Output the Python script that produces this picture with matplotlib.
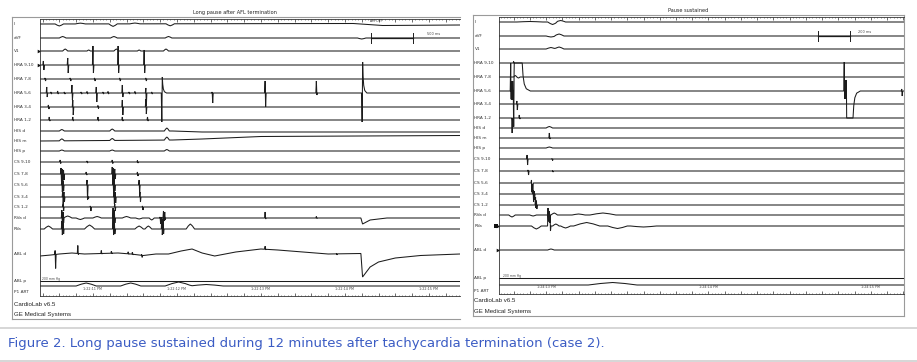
import numpy as np
import matplotlib
matplotlib.use("Agg")
import matplotlib.pyplot as plt
from matplotlib.ticker import MultipleLocator

W, H = 917, 362

# -----------------------------
# data read off the two tracings
# -----------------------------
channels = ["I", "aVF", "V1", "HRA 9,10", "HRA 7,8", "HRA 5,6", "HRA 3,4", "HRA 1,2",
            "HIS d", "HIS m", "HIS p", "CS 9,10", "CS 7,8", "CS 5,6", "CS 3,4", "CS 1,2",
            "RVa d", "RVa", "ABL d", "ABL p", "P1 ART"]

left_title = "Long pause after AFL termination"
left_t_range = (10.37, 15.37)          # seconds after 1:22:00 PM
left_clock_t = [11, 12, 13, 14, 15]
left_clock = ["1:22:11 PM", "1:22:12 PM", "1:22:13 PM", "1:22:14 PM", "1:22:15 PM"]
left_scale = (14.31, 14.81, 14.98, "500 ms")   # bar start, bar end, label x

right_title = "Pause sustained"
right_t_range = (12.71, 15.204)        # seconds after 1:24:00 PM
right_clock_t = [13, 14, 15]
right_clock = ["1:24:13 PM", "1:24:14 PM", "1:24:15 PM"]
right_scale = (14.673, 14.873, 14.92, "200 ms")

# sharp deflections: (time s, up px, down px)
left_spikes = {
    "HRA 9,10": [(10.41, 4, 5), (10.70, 7, 8), (11.00, 19, 8), (11.30, 19, 8), (11.61, 15, 8)],
    "HRA 7,8": [(10.43, 1, 2), (10.73, 1, 2), (11.02, 1, 2), (11.32, 1, 2), (11.63, 1, 2)],
    "HRA 5,6": [(10.45, 6, 4), (10.50, 1, 1), (10.58, 2, 1), (10.66, 1, 1), (10.75, 8, 7),
                (10.86, 1, 1), (10.93, 1.5, 1), (11.04, 6, 9), (11.12, 1, 1), (11.18, 1.5, 1),
                (11.35, 8, 4), (11.43, 1, 1), (11.50, 1.5, 1), (11.63, 5, 13), (11.70, 1, 1),
                (12.42, 1, 10), (13.05, 12, 14), (13.66, 12, 2)],
    "HRA 3,4": [(10.47, 2, 2), (10.76, 7, 8), (11.06, 1.5, 1.5), (11.35, 7, 8), (11.63, 8, 7)],
    "HRA 1,2": [(10.48, 3, 1), (10.76, 3, 1), (11.06, 3, 1), (11.35, 3, 1), (11.65, 3, 1)],
    "CS 9,10": [(10.61, 2, 1.5), (10.93, 1, 1), (11.23, 2, 1.5), (11.53, 1.5, 1)],
    "CS 7,8": [(10.62, 6, 8), (10.635, 5, 7), (10.65, 4, 6), (10.92, 2, 1),
               (11.23, 7, 7), (11.245, 6, 6), (11.26, 5, 5), (11.53, 2, 2)],
    "CS 5,6": [(10.63, 5, 7), (10.645, 4, 6), (10.93, 5, 15), (11.24, 6, 7), (11.255, 5, 6),
               (11.55, 5, 8)],
    "CS 3,4": [(10.64, 6, 7), (10.655, 5, 5), (10.94, 1, 2), (11.25, 6, 7), (11.265, 5, 6),
               (11.56, 5, 5)],
    "CS 1,2": [(10.645, 3, 4), (10.97, 1, 4), (11.26, 3, 4), (11.59, 1, 3)],
    "RVa d": [(10.63, 8, 6), (10.645, 6, 5), (11.24, 10, 6), (11.255, 8, 5), (11.80, 1, 6),
              (11.84, 7, 3), (11.855, 6, 2), (13.05, 6, 1), (13.66, 1.5, 0.5)],
    "RVa": [(10.63, 8, 6), (10.645, 6, 5), (11.24, 12, 6), (11.255, 9, 5), (11.82, 12, 6),
            (11.835, 10, 5)],
    "ABL d": [(10.55, 4, 14), (10.82, 8, 1), (11.10, 3, 0.5), (11.22, 2, 0.5), (11.42, 2, 0.5),
              (11.47, 2, 0.5), (11.58, 1, 2), (13.05, 3, 0.5), (13.90, 0.5, 1)],
}
# rounded waves: (time s, amplitude px, half width s)
left_humps = {
    "I": [(10.60, -2, 0.05), (10.85, 0.8, 0.06), (11.24, -2.5, 0.05), (11.50, 0.8, 0.06),
          (11.92, -2, 0.05)],
    "aVF": [(10.64, 1.5, 0.04), (11.25, 1.5, 0.04), (11.90, 1.5, 0.04), (14.20, -1, 0.05)],
    "V1": [(10.67, 2, 0.03), (10.95, 1, 0.02), (11.28, 2, 0.03), (11.55, 1, 0.02),
           (11.87, 2, 0.03)],
    "HIS d": [(10.63, 1.5, 0.03), (11.23, 2, 0.03), (11.88, 3, 0.03)],
    "HIS m": [(10.63, 2, 0.03), (11.23, 2, 0.03), (11.88, 3, 0.03)],
    "HIS p": [(10.63, 1, 0.03), (11.23, 1, 0.03), (11.88, 1.5, 0.03)],
    "RVa d": [(10.70, 2, 0.05), (10.85, -1.5, 0.05), (11.05, 1.5, 0.05), (11.40, 1.5, 0.05),
              (11.55, -1, 0.04), (11.70, -2, 0.03)],
    "RVa": [(10.47, 3, 0.05), (10.96, 4, 0.06), (11.55, 3, 0.05), (11.66, 3, 0.04),
            (12.16, 5, 0.05)],
    "P1 ART": [(10.92, 3, 0.12), (11.45, 3, 0.12), (12.02, 4, 0.16), (12.35, 1.5, 0.2)],
}
# slow baseline drift: (time s, offset px)
left_drift = {
    "I": [(10.37, 0), (14.10, 0.5), (14.45, -1.5), (15.37, -1)],
    "HIS d": [(10.37, 0), (11.95, 0), (12.30, -1), (15.37, -1)],
    "HIS m": [(10.37, 0), (11.95, 1), (12.30, 2), (13.00, 4.5), (15.37, 5.5)],
    "RVa d": [(10.37, 0), (14.19, 0), (14.21, -6), (14.30, -2), (14.50, 0), (15.37, 0)],
    "ABL d": [(10.37, -2), (10.50, -1), (10.60, 0), (10.75, 1), (10.90, 0), (11.10, 0.5),
              (11.30, 1), (11.45, 0), (11.60, -1.5), (11.75, 0), (11.90, 0), (12.05, 3),
              (12.18, 5), (12.30, 1), (12.45, -2), (12.70, 2), (13.00, 5), (13.20, 4),
              (13.50, 2), (13.80, 0), (14.19, 0.5), (14.21, -23), (14.30, -13), (14.40, -8),
              (14.60, -4), (14.90, -1.5), (15.37, 0)],
}
# pacing / saturation artifacts: (time s, first px, second px, hold s, recovery s)
left_artifacts = {
    "HRA 5,6": [(11.82, -29, 16, 0.0, 0.05), (14.205, -29, 31, 0.0, 0.05)],
}

right_spikes = {
    "HRA 9,10": [(12.80, 1.5, 0.5)],
    "HRA 5,6": [(12.782, 28, 27), (12.786, 28, 27), (12.790, 28, 27), (12.794, 28, 27),
                (12.798, 28, 27), (14.836, 29, 27), (14.840, 29, 27), (14.844, 29, 27),
                (15.19, 2, 5)],
    "HRA 3,4": [(12.82, 3, 6)],
    "HRA 1,2": [(12.788, 0, 15), (12.835, 3, 1)],
    "HIS m": [(13.02, 5, 1)],
    "CS 9,10": [(12.883, 4, 6), (13.037, 0.5, 1.5)],
    "CS 7,8": [(12.889, 1, 4), (13.04, 0.5, 1)],
    "CS 5,6": [(12.91, 3, 10), (12.915, 2, 8)],
    "CS 3,4": [(12.92, 4, 8), (12.926, 3, 6)],
    "CS 1,2": [(12.935, 8, 5), (12.94, 6, 4)],
    "RVa d": [(13.02, 4, 3)],
    "RVa": [(13.012, 18, 6), (13.016, 16, 6), (13.020, 17, 6), (13.024, 14, 5)],
}
right_humps = {
    "I": [(12.90, 0.5, 0.08), (13.04, -2.5, 0.03), (13.09, 1.5, 0.03)],
    "aVF": [(13.03, -1, 0.03), (13.08, 2, 0.03)],
    "V1": [(13.03, 1.5, 0.03), (13.08, 2, 0.03)],
    "HRA 7,8": [(12.81, 1.5, 0.01), (12.83, -1, 0.01)],
    "HIS d": [(13.02, 1.5, 0.02)],
    "HIS p": [(13.02, 1, 0.02)],
    "RVa d": [(12.79, -2, 0.02), (12.92, -1, 0.02), (13.05, 2, 0.02), (13.20, 1, 0.04),
              (13.35, 2, 0.08)],
    "RVa": [(12.94, -3, 0.03), (13.06, 2, 0.02), (13.12, -2, 0.03), (13.25, 3.5, 0.08),
            (13.44, -2.5, 0.06), (13.60, -1, 0.08)],
    "ABL d": [(13.03, 1, 0.02)],
    "P1 ART": [(13.41, 2.5, 0.15)],
}
right_drift = {}
right_artifacts = {
    "HRA 5,6": [(12.80, -27, 28, 0.05, 0.05), (14.848, 29, -27, 0.039, 0.045)],
}

# -----------------------------
# layout (pixels)
# -----------------------------
left_rows = [24, 38, 51, 65, 79, 93, 107, 120, 131, 141, 151, 162, 174, 185, 197, 207,
             218, 229, 254, 281, 286]
right_rows = [22, 36, 49, 63, 77, 91, 104, 118, 128, 138, 148, 159, 171, 183, 194, 205,
              215, 226, 250, 278, 285]

INK = "#1c1c1c"
FRAME = "#9a9a9a"


def build_trace(t_range, drift, spikes, humps, arts, w):
    pulses = []
    for t, up, dn in spikes:
        pulses.append(([t - w, t, t + w, t + 2 * w], [0, up, -dn, 0]))
    for t, a, hw in humps:
        pulses.append(([t - hw, t - hw / 2, t, t + hw / 2, t + hw], [0, .6 * a, a, .6 * a, 0]))
    for t, first, second, hold, dec in arts:
        ts = [t - w, t, t + w]
        vs = [0, first, second]
        t1 = t + w
        if hold > 0:
            t1 = t + w + hold
            ts.append(t1)
            vs.append(second)
        for f, r in zip([0.1, 0.25, 0.5, 1.0], [0.55, 0.25, 0.08, 0.0]):
            ts.append(t1 + f * dec)
            vs.append(second * r)
        pulses.append((ts, vs))
    knots = drift if drift else [(t_range[0], 0), (t_range[1], 0)]
    kt = [k[0] for k in knots]
    kv = [k[1] for k in knots]
    grid = set(kt) | {t_range[0], t_range[1]}
    for ts, _ in pulses:
        grid |= set(ts)
    grid = np.array(sorted(g for g in grid if t_range[0] <= g <= t_range[1]))
    y = np.interp(grid, kt, kv)
    for ts, vs in pulses:
        y = y + np.interp(grid, ts, vs, left=0, right=0)
    return grid, y


fig = plt.figure(figsize=(W / 100, H / 100), dpi=100)
bg = fig.add_axes([0, 0, 1, 1])
bg.set_xlim(0, W)
bg.set_ylim(H, 0)
bg.axis("off")


def panel(box, t_range, rows, title, title_x, clock_t, clock, scale, spikes, humps, drift,
          arts, major, minor, w, frame, label_x, foot_y):
    x0, x1, ytop, ybot = box
    ax = fig.add_axes([x0 / W, 1 - ybot / H, (x1 - x0) / W, (ybot - ytop) / H])
    ax.set_facecolor("none")
    ax.set_xlim(*t_range)
    ax.set_ylim(ybot, ytop)
    for name, row in zip(channels, rows):
        t, y = build_trace(t_range, drift.get(name), spikes.get(name, []),
                           humps.get(name, []), arts.get(name, []), w)
        ax.plot(t, row - y, color=INK, lw=0.75, solid_joinstyle="miter")
    # time stamps
    for ct, lab in zip(clock_t, clock):
        ax.text(ct, rows[-1] + 2.5, lab, fontsize=2.4, ha="center", va="center", color="#444")
    ax.text(t_range[0] + 0.025, rows[-2] - 1.6, "200 mm Hg",
            fontsize=2.2, ha="left", va="center", color="#444")
    # calibration bar
    sa, sb, sx, slab = scale
    ax.plot([sa, sb], [rows[1], rows[1]], color=INK, lw=0.9)
    ax.plot([sa, sa], [rows[1] - 5, rows[1] + 5], color=INK, lw=0.7)
    ax.plot([sb, sb], [rows[1] - 5, rows[1] + 5], color=INK, lw=0.7)
    ax.text(sx, rows[1] - 4, slab, fontsize=2.5, ha="left", va="center", color="#444")
    # rulers
    ax.xaxis.set_major_locator(MultipleLocator(major))
    ax.xaxis.set_minor_locator(MultipleLocator(minor))
    ax.tick_params(axis="x", which="both", direction="in", top=True, bottom=True,
                   labelbottom=False, colors="#333")
    ax.tick_params(axis="x", which="major", length=2.2, width=0.5)
    ax.tick_params(axis="x", which="minor", length=1.0, width=0.4)
    ax.set_yticks([])
    ax.spines["right"].set_visible(False)
    for s in ["top", "bottom", "left"]:
        ax.spines[s].set_linewidth(0.6)
        ax.spines[s].set_color("#333")
    # frame, labels, title, footer
    fx0, fx1, fy0, fy1 = frame
    bg.plot([fx0, fx1], [fy0, fy0], color=FRAME, lw=0.8)
    bg.plot([fx0, fx0], [fy0, fy1], color=FRAME, lw=0.8)
    bg.plot([fx0, fx1], [fy1, fy1], color=FRAME, lw=0.8)
    bg.text(title_x, fy0 - 4.5, title, fontsize=3.6, ha="center", va="center", color="#222")
    for name, row in zip(channels, rows):
        yy = row + 6 if name == "P1 ART" else row
        bg.text(label_x, yy, name, fontsize=3.1, ha="left", va="center", color="#333")
    bg.text(label_x, foot_y, "CardioLab v6.5", fontsize=4.4, ha="left", va="center",
            color="#222", family="Liberation Sans")
    bg.text(label_x, foot_y + 10.5, "GE Medical Systems", fontsize=4.4, ha="left",
            va="center", color="#222", family="Liberation Sans")
    return ax


axl = panel((40, 460, 19, 296), left_t_range, left_rows, left_title, 235, left_clock_t,
            left_clock, left_scale, left_spikes, left_humps, left_drift, left_artifacts,
            0.2, 0.04, 0.006, (12, 460, 17, 319), 13.5, 304)
axr = panel((499, 904, 17, 294), right_t_range, right_rows, right_title, 688, right_clock_t,
            right_clock, right_scale, right_spikes, right_humps, right_drift, right_artifacts,
            0.1, 0.02, 0.003, (473, 904, 15, 316), 474.5, 300.5)
bg.plot([904, 904], [15, 316], color=FRAME, lw=0.8)
axl.text(14.37, left_rows[0] - 3.5, "AM OFF", fontsize=2.3, ha="center", va="center",
         color="#333")

# channel markers
for x, y in [(38.5, left_rows[2]), (38.5, left_rows[3]), (497.5, right_rows[17]),
             (497.5, right_rows[18])]:
    bg.plot(x, y, marker=">", ms=2.6, color="#111", mew=0)
bg.plot(496, right_rows[17], marker="s", ms=2.2, color="#111", mew=0)

# caption band
bg.plot([0, W], [327.5, 327.5], color="#d6d6d6", lw=1.4)
bg.plot([0, W], [360.5, 360.5], color="#d6d6d6", lw=1.4)
bg.text(8, 344, "Figure 2. Long pause sustained during 12 minutes after tachycardia termination (case 2).",
        fontsize=9.5, ha="left", va="center", color="#3b5cc4", family="DejaVu Sans")

fig.savefig("out.png", dpi=100, facecolor="white")
